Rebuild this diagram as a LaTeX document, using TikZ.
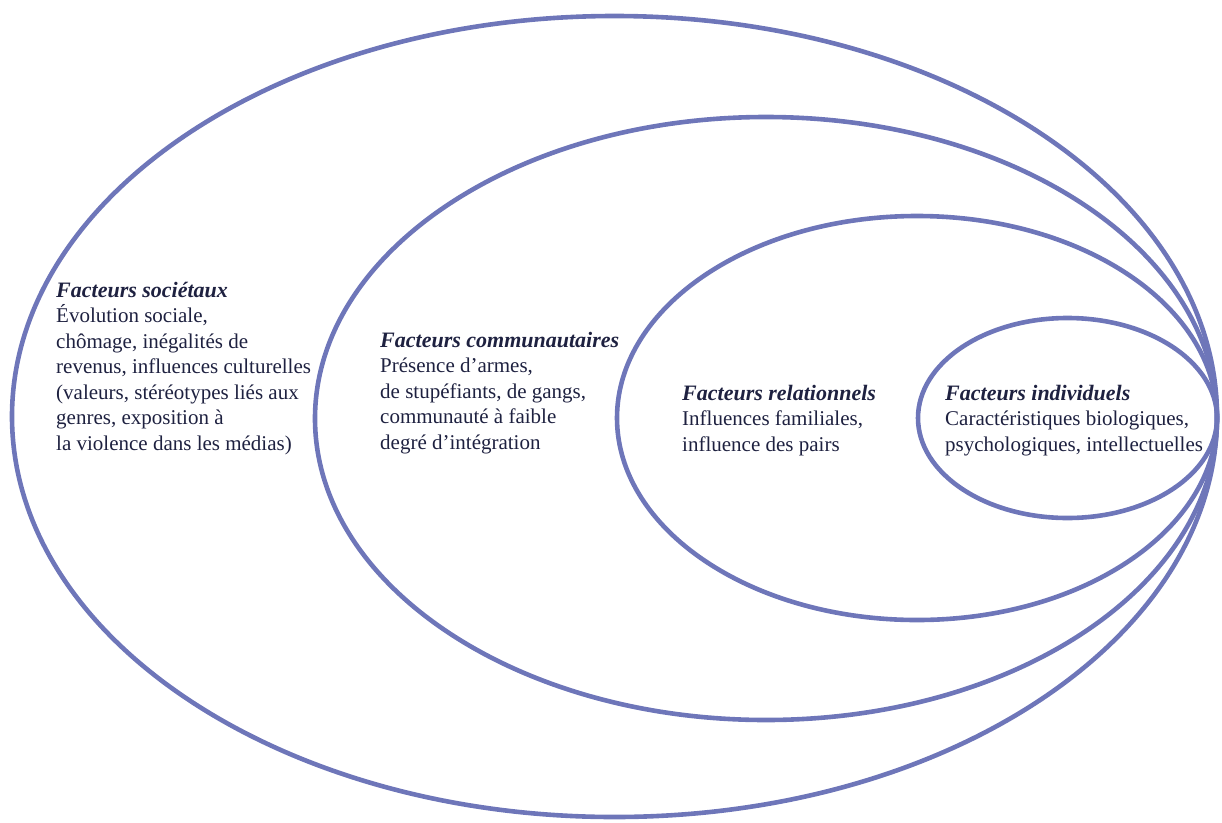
\documentclass[tikz,border=0pt]{standalone}
\usepackage{fontspec}
\setmainfont{Liberation Serif}
\usetikzlibrary{shapes.geometric}
\definecolor{ringblue}{HTML}{6E76B9}
\definecolor{inkblue}{HTML}{1E2140}
\newcommand{\factorhead}[1]{{\fontsize{22}{25.5}\selectfont\textbf{\textit{#1}}}}
\begin{document}
\begin{tikzpicture}[x=1pt,y=-1pt,
  ring/.style={draw=ringblue,line width=4.6pt,ellipse,inner sep=0pt},
  factor/.style={anchor=base west,inner sep=0pt,align=left,text=inkblue,
    font=\fontsize{21}{25.5}\selectfont}]
\useasboundingbox (0,0) rectangle (1222,822);
\node[ring,minimum width=1205pt,minimum height=801pt] (soc) at (614.5,416.5) {};
\node[ring,minimum width=902pt,minimum height=603pt] (com) at (766,418.5) {};
\node[ring,minimum width=600pt,minimum height=404pt] (rel) at (917,418) {};
\node[ring,minimum width=299pt,minimum height=200pt] (ind) at (1067.5,418) {};
% base anchor sits on the last line of each block
\node[factor] (tsoc) at (56,450) {\factorhead{Facteurs sociétaux}\\
  Évolution sociale,\\ chômage, inégalités de\\ revenus, influences culturelles\\
  (valeurs, stéréotypes liés aux\\ genres, exposition à\\ la violence dans les médias)};
\node[factor] (tcom) at (380,449) {\factorhead{Facteurs communautaires}\\
  Présence d’armes,\\ de stupéfiants, de gangs,\\ communauté à faible\\ degré d’intégration};
\node[factor] (trel) at (682,451) {\factorhead{Facteurs relationnels}\\
  Influences familiales,\\ influence des pairs};
\node[factor] (tind) at (945,451) {\factorhead{Facteurs individuels}\\
  Caractéristiques biologiques,\\ psychologiques, intellectuelles};
\end{tikzpicture}
\end{document}
